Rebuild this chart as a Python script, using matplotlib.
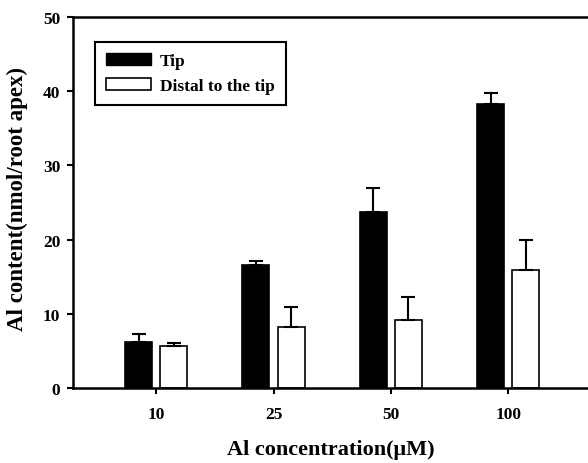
import numpy as np
from matplotlib import pyplot as plt
from matplotlib.patches import Patch

plt.rcParams['font.family'] = ['Liberation Serif', 'DejaVu Serif']
plt.rcParams['font.weight'] = 'bold'

# data
conc = ['10', '25', '50', '100']
tip = [6.2, 16.5, 23.7, 38.3]
tip_err = [1.1, 0.6, 3.2, 1.5]
distal = [5.6, 8.2, 9.1, 15.9]
distal_err = [0.45, 2.7, 3.1, 4.0]

idx = np.arange(len(conc))
bw = 0.23

fig = plt.figure(figsize=(5.88, 4.64), dpi=100)
ax = fig.add_axes([0.124, 0.162, 0.876, 0.799])

ax.bar(idx - 0.15, tip, bw, color='black', edgecolor='black', linewidth=1.2,
       yerr=[np.zeros(4), tip_err], capsize=5, error_kw=dict(elinewidth=1.5, capthick=1.5))
ax.bar(idx + 0.15, distal, bw, color='white', edgecolor='black', linewidth=1.2,
       yerr=[np.zeros(4), distal_err], capsize=5, error_kw=dict(elinewidth=1.5, capthick=1.5))

ax.set_xlim(-0.71, 3.68)
ax.set_ylim(0, 50)
ax.set_xticks(idx)
ax.set_xticklabels(conc)
ax.set_yticks([0, 10, 20, 30, 40, 50])
ax.tick_params(axis='x', direction='out', length=4, width=1.5, pad=9, labelsize=12.5)
ax.tick_params(axis='y', direction='out', length=4, width=1.5, pad=5, labelsize=12.5)
ax.spines['right'].set_visible(False)
for s in ['left', 'bottom', 'top']:
    ax.spines[s].set_linewidth(1.8)

ax.set_xlabel('Al concentration(\u03bcM)', fontsize=16, fontweight='bold', labelpad=12)
ax.set_ylabel('Al content(nmol/root apex)', fontsize=16.5, fontweight='bold')
ax.yaxis.set_label_coords(-0.088, 0.512)

handles = [Patch(facecolor='black', edgecolor='black'),
           Patch(facecolor='white', edgecolor='black', linewidth=1.2)]
leg = ax.legend(handles, ['Tip', 'Distal to the tip'], loc='upper left',
                bbox_to_anchor=(0.043, 0.933), borderaxespad=0, fancybox=False,
                edgecolor='black', framealpha=1, handlelength=2.6, handleheight=0.7,
                labelspacing=0.5, borderpad=0.65, handletextpad=0.5,
                prop={'weight': 'bold', 'size': 12.5})
leg.get_frame().set_linewidth(1.5)

fig.savefig('out.png', dpi=100)
